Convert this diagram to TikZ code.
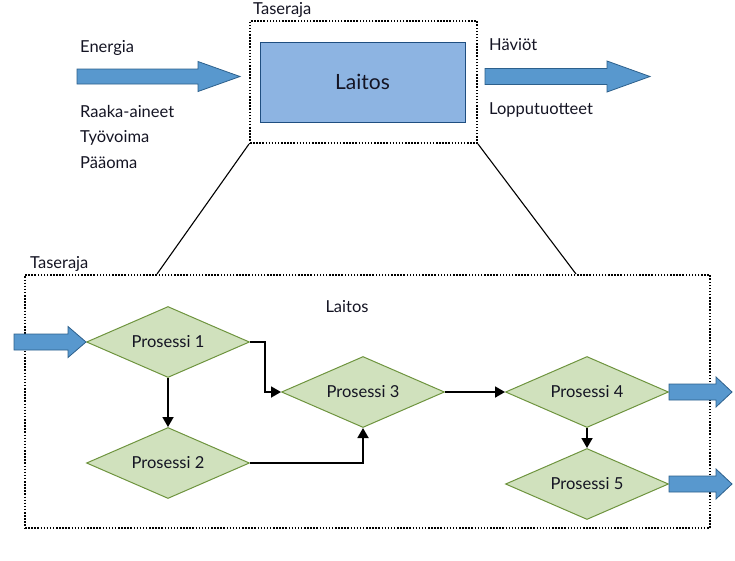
\documentclass[tikz,border=0pt]{standalone}
\usepackage{fontspec}
\setmainfont{Lato}
\usepackage{tikz}
\usetikzlibrary{positioning,calc,arrows.meta,shapes.geometric}
\usepackage{xcolor}

\definecolor{boxblue}{RGB}{141,180,226}
\definecolor{boxedge}{RGB}{31,78,128}
\definecolor{arrblue}{RGB}{88,152,206}
\definecolor{arredge}{RGB}{45,96,140}
\definecolor{procgreen}{RGB}{208,225,189}
\definecolor{procedge}{RGB}{110,148,62}
\definecolor{ink}{RGB}{20,20,35}

% block arrow: start, length, head length, shaft half, head half
\newcommand{\flowarrow}[5]{%
  \draw[flow] (#1) ++(0,#4) -- ++({#2-#3},0) -- ++(0,{#5-#4}) -- ++(#3,-#5)
    -- ++(-#3,-#5) -- ++(0,{#5-#4}) -- ++({#3-#2},0) -- cycle;}

\tikzset{
  txt/.style={font=\fontsize{16.5}{19}\selectfont, text=ink, inner sep=0pt},
  raja/.style={draw, line width=2pt, dash pattern=on 1.5pt off 1.6pt, inner sep=0pt},
  proc/.style={diamond, aspect=2.3, draw=procedge, fill=procgreen, line width=1pt,
    minimum width=163pt, minimum height=71pt, inner sep=0pt, text=ink,
    font=\fontsize{16.5}{19}\selectfont},
  flow/.style={fill=arrblue, draw=arredge, line width=0.8pt, line join=miter},
  link/.style={line width=1.8pt, -{Triangle[length=10pt,width=11pt]}}
}

\begin{document}
\begin{tikzpicture}[x=1pt, y=-1pt]

  \useasboundingbox (0,0) rectangle (735,560);

  % Upper part
  \node[raja, minimum width=227pt, minimum height=122pt] (raja1) at (363.5,82) {};
  \node[draw=boxedge, fill=boxblue, line width=1pt, minimum width=205pt, minimum height=80pt,
    text=ink, font=\fontsize{21}{24}\selectfont] (laitos1) at (362.5,82) {Laitos};
  \node[txt, anchor=base west] (raja1lbl) at (253,14) {Taseraja};

  \coordinate (inA) at (77,76.5);
  \coordinate (outA) at (485,76.5);
  \flowarrow{inA}{163}{42}{7.5}{15}
  \flowarrow{outA}{165}{43}{8}{15.5}

  \node[txt, anchor=west] (energia) at (80,48) {Energia};
  \node[txt, anchor=west] (raaka) at (80,111) {Raaka-aineet};
  \node[txt, anchor=west] (tyo) at (80,138) {Työvoima};
  \node[txt, anchor=west] (paaoma) at (80,163) {Pääoma};
  \node[txt, anchor=west] (haviot) at (489,45) {Häviöt};
  \node[txt, anchor=west] (loppu) at (489,110) {Lopputuotteet};

  % Lower part
  \node[raja, minimum width=685pt, minimum height=253pt] (raja2) at (367.5,401.5) {};
  \node[txt, anchor=base west] (raja2lbl) at (30,268) {Taseraja};
  \node[txt] (laitos2) at (347,307) {Laitos};

  \draw[line width=1.1pt] (raja1.south west) -- ($(raja2.north west)+(133,0)$);
  \draw[line width=1.1pt] (raja1.south east) -- ($(raja2.north west)+(552,0)$);

  \node[proc] (p1) at (168,342) {Prosessi 1};
  \node[proc] (p2) at (168,463) {Prosessi 2};
  \node[proc] (p3) at (363,392) {Prosessi 3};
  \node[proc] (p4) at (587,392) {Prosessi 4};
  \node[proc] (p5) at (587,484) {Prosessi 5};

  \draw[link] (p1.east) -- ++(15,0) |- (p3.west);
  \draw[link] (p1.south) -- (p2.north);
  \draw[link] (p2.east) -| (p3.south);
  \draw[link] (p3.east) -- (p4.west);
  \draw[link] (p4.south) -- (p5.north);

  \coordinate (in1) at ($(p1.west)+(-72,0)$);
  \flowarrow{in1}{72}{18}{8}{15.5}
  \flowarrow{p4.east}{63}{16}{8}{15}
  \flowarrow{p5.east}{63}{16}{8}{15}

\end{tikzpicture}
\end{document}
